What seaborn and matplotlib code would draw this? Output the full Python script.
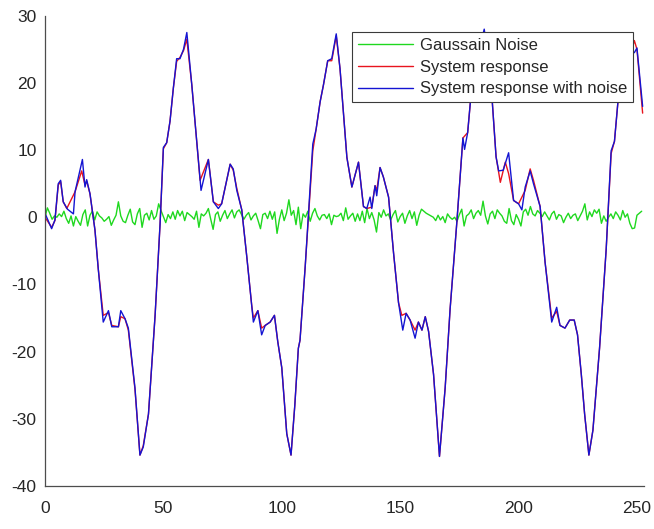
import numpy as np
import pandas as pd
import matplotlib
matplotlib.use("Agg")
import matplotlib.pyplot as plt
import seaborn as sns

# ---------------- data ----------------
noise_y = [
    0.0, 1.4, 0.6, -0.3, 0.2, 0.0, 0.5, 0.1, 0.9, -0.2,
    -0.9, 0.2, -1.3, 0.1, -0.6, -1.2, 0.4, 1.1, -1.3, 0.3,
    0.9, -0.4, 0.8, 0.2, -0.1, -0.6, -0.3, 0.1, -1.2, -0.4,
    0.3, 2.3, 0.2, -0.6, -0.8, 0.3, 1.2, -0.7, -1.1, 0.5,
    1.3, -1.5, 0.3, 0.6, -0.4, 1.0, -0.3, 0.2, 2.0, 1.0,
    0.1, -0.8, 0.4, -0.2, 0.8, -0.3, 1.0, 0.2, 0.9, -0.5,
    0.7, 0.4, 0.1, -0.3, 0.9, -1.5, 0.5, 0.2, 0.6, 1.3,
    -0.3, -1.8, 0.4, 0.8, -0.6, 0.3, 1.0, -0.2, 0.5, 1.1,
    -0.1, 0.8, 1.1, 0.4, -0.3, 0.3, 0.7, -0.4, 0.2, 0.6,
    -0.5, -1.7, 0.4, 0.6, -0.2, 0.9, -0.3, 0.8, -2.4, -0.3,
    1.1, -0.5, 0.6, 2.6, 0.3, 1.0, -1.1, 1.5, -1.7, 0.5,
    0.0, 0.9, -0.6, 0.6, 1.3, 0.2, -0.4, 0.3, 0.4, -0.2,
    0.5, -1.1, 0.3, 0.1, 0.2, 0.6, -0.5, 1.4, -0.3, 0.2,
    0.6, -0.6, 0.5, -0.5, 0.9, -0.8, 1.3, -0.2, 0.7, -0.4,
    -2.2, 0.7, 0.0, 1.1, 0.2, 0.5, -0.4, 0.4, 1.0, -0.7,
    0.1, 0.6, -0.9, 0.2, 1.0, -0.2, 0.8, -1.2, 0.3, 1.2,
    0.9, 0.6, 0.4, 0.2, 0.0, -0.5, 0.3, -0.4, 0.1, -0.8,
    0.5, 0.0, -0.3, 0.0, -0.6, 0.4, 1.2, -1.3, 0.2, 0.5,
    1.1, -0.2, 0.6, 1.0, 0.3, 2.4, 0.2, -1.0, 0.5, 0.9,
    -0.2, 1.1, 0.6, 0.2, -0.6, -0.9, 1.3, -0.5, -1.1, 0.4,
    -0.3, -1.3, 0.8, 1.2, 0.3, 1.6, 0.5, 0.2, 1.0, 0.6,
    0.1, 0.8, 0.2, -0.4, 0.5, 0.9, -0.3, 0.4, 0.2, -0.8,
    0.0, 0.6, -0.2, 0.3, 0.5, -0.5, 0.2, 0.9, 2.0, -0.4,
    0.8, 0.1, 1.1, 0.6, 1.2, -0.9, 0.2, -0.6, 0.0, 0.5,
    -0.2, 0.8, 0.3, -0.4, 1.0, 0.0, 0.5, -0.9, -1.7, -1.6,
    0.3, 0.6, 0.9,
]
noise_x = list(range(len(noise_y)))

resp_x = [0, 2.8, 4.2, 5.6, 6.6, 7.7, 9.2, 12.7, 15.5, 16.9, 17.6, 19, 21.1, 22.5,
          24.6, 26.8, 28.2, 31, 32, 33.8, 35.2, 38, 40.1, 41.5, 43.7, 46.5, 48.6,
          50, 51.4, 52.8, 54.2, 55.6, 57, 58.5, 59.9, 62, 65.5, 69, 71.1, 73.2,
          74.6, 78.2, 79.5, 81, 83.1, 85.2, 87.3, 88, 89.9, 91.5, 93, 95.1, 96.9,
          98.3, 100, 102.1, 103.9, 105.5, 107, 107.7, 109.9, 113.1, 114.5, 116.2,
          117.6, 119.4, 121.1, 123, 124.6, 127.5, 129.6, 132.4, 134.5, 135.9, 138,
          139.4, 140.1, 141.5, 142.9, 145.1, 147.2, 149.3, 150.7, 152.5, 154.2,
          156.3, 157.7, 159.2, 160.6, 162, 164.1, 166.6, 169, 171.1, 173.9, 176.5,
          178.5, 180.3, 183, 185.5, 187, 188.8, 190.5, 192.3, 194.4, 195.8, 197.9,
          200, 202.8, 204.9, 206.3, 209.1, 211.2, 214, 216.1, 217.5, 219.6, 221.6,
          223.5, 224.9, 226.5, 227.9, 229.7, 231.4, 234.2, 237, 239.1, 240.5,
          242.6, 245, 247.5, 248.9, 250, 252.4]
resp_y = [0.0, -1.5, -0.5, 4.8, 5.3, 2.3, 1.3, 3.8, 6.9, 4.8, 5.4, 3.5, -1.9, -7.7,
          -14.6, -14.2, -16.1, -16.3, -14.8, -15.1, -16.8, -25.6, -35.4, -34.0, -29.3,
          -14.6, -1.0, 10.2, 11.1, 14.3, 19.2, 23.2, 23.8, 24.8, 26.5, 19.7, 5.5, 8.6,
          2.3, 1.8, 2.0, 7.9, 7.0, 4.3, 1.1, -5.8, -13.1, -15.0, -13.9, -16.5, -16.1,
          -15.6, -14.6, -18.5, -22.4, -32.2, -35.4, -28.0, -19.5, -18.3, -7.3, 9.9,
          13.1, 17.2, 19.7, 23.3, 23.3, 27.0, 22.1, 8.9, 4.5, 8.2, 1.6, 1.3, 1.5, 4.7,
          4.0, 7.4, 6.0, 3.0, -5.3, -12.7, -14.6, -14.3, -15.3, -16.8, -15.6, -16.8,
          -14.8, -17.0, -23.4, -35.6, -25.4, -13.6, -0.9, 11.8, 12.6, 19.7, 24.5, 27.5,
          24.0, 17.7, 9.0, 5.2, 8.2, 6.5, 2.5, 2.0, 4.0, 7.2, 5.5, 1.6, -6.7, -15.0,
          -14.0, -16.1, -16.5, -15.3, -15.3, -17.5, -23.4, -29.3, -35.4, -31.7, -19.5,
          -4.8, 9.5, 11.3, 19.7, 22.5, 24.5, 26.3, 25.0, 15.5]

noisy_x = [0, 2.8, 4.2, 5.6, 6.6, 7.7, 9.5, 12.0, 12.7, 15.8, 16.9, 17.6, 19, 21.1,
           22.5, 24.6, 26.8, 28.2, 31, 32, 33.8, 35.2, 38, 40.1, 41.5, 43.7, 46.5,
           48.6, 50, 51.4, 52.8, 54.2, 55.6, 57, 58.5, 59.9, 62, 65.9, 69, 71.1, 73.2,
           74.6, 78.2, 79.5, 81, 83.1, 85.2, 87.3, 88, 89.9, 91.5, 93, 95.1, 96.9,
           98.3, 100, 102.1, 103.9, 105.5, 107, 107.7, 109.9, 113.1, 114.5, 116.2,
           117.6, 119.4, 121.1, 123, 124.6, 127.5, 129.6, 132.4, 134.5, 135.9, 137.3,
           138, 139.4, 140.1, 141.5, 142.9, 145.1, 147.2, 149.3, 151.1, 152.5, 154.2,
           156.3, 157.7, 159.2, 160.6, 162, 164.1, 166.6, 169, 171.1, 173.9, 176.5,
           177.2, 178.5, 180.3, 183, 185.5, 187, 188.8, 190.5, 191.6, 193.5, 195.8,
           197.9, 200, 201.4, 202.8, 204.9, 206.3, 209.1, 211.2, 214, 216.1, 217.5,
           219.6, 221.6, 223.5, 224.9, 226.5, 227.9, 229.7, 231.4, 234.2, 237, 239.1,
           240.5, 242.6, 245, 247.5, 248.9, 250, 252.4]
noisy_y = [0.6, -1.7, -0.4, 5.0, 5.5, 2.3, 1.2, 0.5, 3.8, 8.6, 4.5, 5.6, 3.5, -1.9,
           -7.7, -15.6, -13.9, -16.3, -16.3, -13.9, -15.1, -16.5, -25.4, -35.4, -34.2,
           -29.3, -14.6, -1.0, 10.4, 11.1, 14.3, 19.2, 23.6, 23.6, 25.0, 27.5, 19.7,
           4.0, 8.6, 2.3, 1.3, 2.0, 7.9, 7.2, 4.0, 1.1, -5.8, -13.1, -15.6, -13.9,
           -17.5, -16.1, -15.6, -14.6, -18.5, -22.4, -32.2, -35.4, -28.0, -19.5,
           -18.3, -7.3, 10.9, 13.1, 17.2, 19.7, 23.3, 23.6, 27.3, 22.1, 8.9, 4.5, 8.2,
           1.6, 1.3, 3.0, 1.3, 4.7, 3.2, 7.4, 6.0, 3.0, -5.3, -12.7, -16.8, -14.3,
           -15.3, -18.0, -15.6, -16.8, -14.8, -17.0, -23.4, -35.6, -25.4, -13.6, -0.9,
           11.8, 10.1, 12.6, 19.7, 24.5, 28.0, 24.0, 17.7, 9.0, 6.9, 7.0, 9.6, 2.5,
           2.0, 1.1, 4.5, 6.9, 5.0, 1.6, -6.7, -15.6, -13.4, -16.1, -16.5, -15.3,
           -15.3, -17.5, -23.4, -29.3, -35.4, -31.7, -19.5, -4.8, 9.9, 11.3, 19.7,
           22.5, 24.5, 24.5, 25.2, 16.5]

y_ticks = [-40, -30, -20, -10, 0, 10, 20, 30]
x_ticks = [0, 50, 100, 150, 200, 250]
labels = ["Gaussain Noise", "System response", "System response with noise"]

# ---------------- plotting ----------------
sns.set_style("white")
plt.rcParams["font.family"] = ["Liberation Sans", "DejaVu Sans"]
plt.rcParams["axes.unicode_minus"] = False

fig = plt.figure(figsize=(6.54, 5.29), dpi=100)
ax = fig.add_axes([0.0688, 0.0813, 0.916, 0.889])

df_noise = pd.DataFrame({"x": noise_x, "y": noise_y})
df_resp = pd.DataFrame({"x": resp_x, "y": resp_y})
df_noisy = pd.DataFrame({"x": noisy_x, "y": noisy_y})

sns.lineplot(data=df_noise, x="x", y="y", ax=ax, color="#1fd81f", lw=1.0, label=labels[0])
sns.lineplot(data=df_resp, x="x", y="y", ax=ax, color="#e8141e", lw=1.0, label=labels[1])
sns.lineplot(data=df_noisy, x="x", y="y", ax=ax, color="#1414d2", lw=1.0, label=labels[2])

ax.set_xlim(0, 253)
ax.set_ylim(-40, 30)
ax.set_xticks(x_ticks)
ax.set_yticks(y_ticks)
ax.set_xlabel("")
ax.set_ylabel("")

for s in ["top", "right"]:
    ax.spines[s].set_visible(False)
for s in ["left", "bottom"]:
    ax.spines[s].set_color("#4d4d4d")
    ax.spines[s].set_linewidth(0.9)

ax.tick_params(direction="in", length=5, width=0.8, color="#4d4d4d",
               labelsize=12.5, labelcolor="#262626", pad=6)
ax.tick_params(axis="x", pad=11)

leg = ax.legend(loc="upper right", bbox_to_anchor=(0.9816, 0.965),
                bbox_transform=ax.transAxes, borderaxespad=0, fontsize=12,
                frameon=True, fancybox=False, framealpha=1.0, handlelength=3.3,
                handletextpad=0.4, labelspacing=0.4, borderpad=0.35)
leg.get_frame().set_edgecolor("#3a3a3a")
leg.get_frame().set_linewidth(0.8)
for t in leg.get_texts():
    t.set_color("#262626")

fig.savefig("out.png", dpi=100)
